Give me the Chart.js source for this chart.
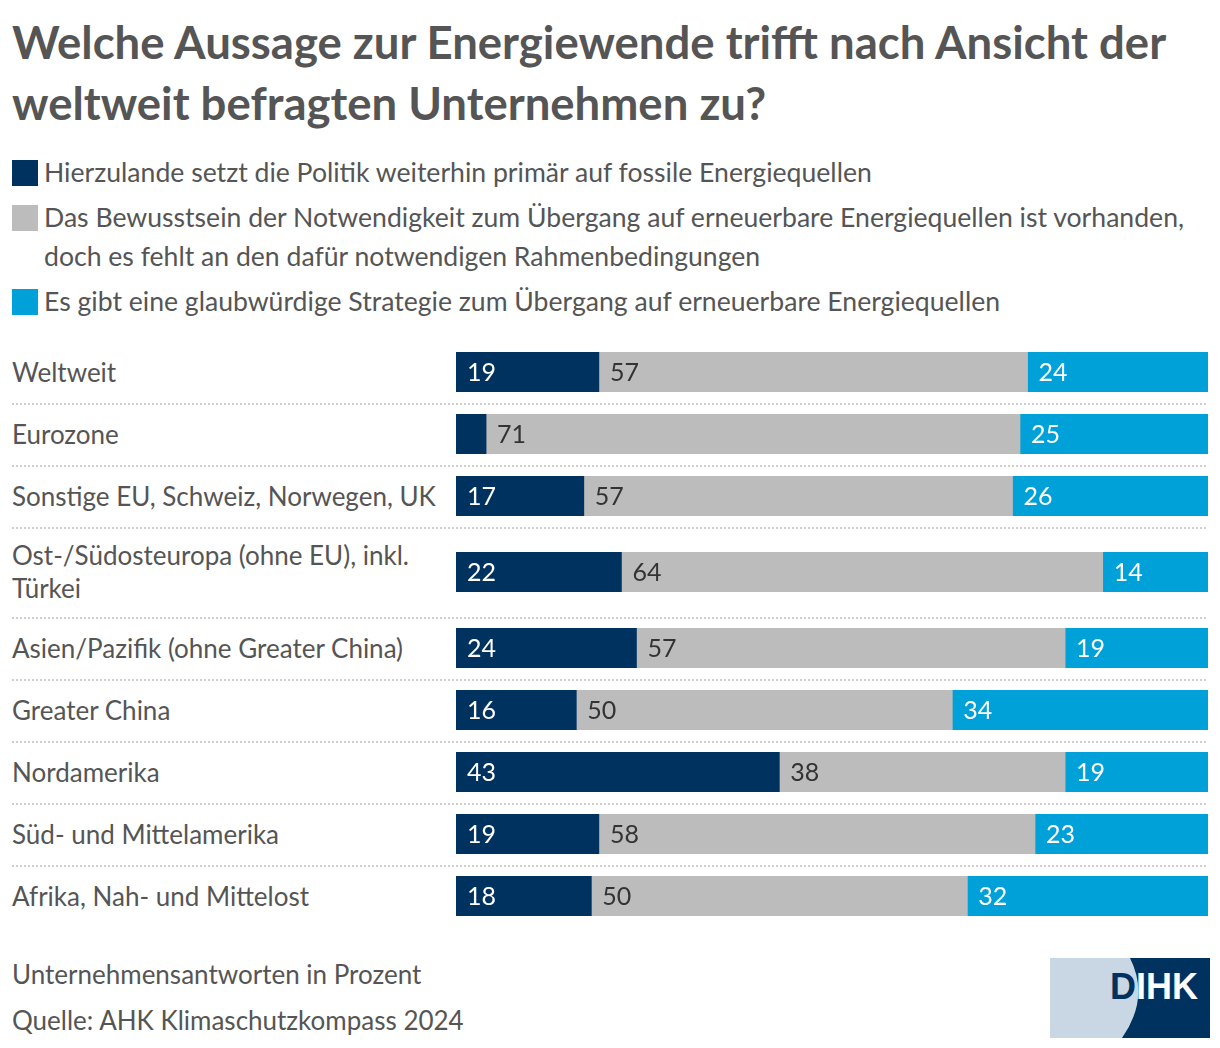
<!DOCTYPE html>
<html lang="de">
<head>
<meta charset="utf-8">
<script src="https://cdn.jsdelivr.net/npm/chart.js@4"></script>
<style>
  html, body { margin: 0; padding: 0; background: #fff; }
  body { width: 1220px; height: 1048px; font-family: Lato, "Noto Sans", sans-serif; color: #555; position: relative; overflow: hidden; }
  h1 { position: absolute; left: 12px; top: 11px; margin: 0; font-size: 45.5px; line-height: 61px; font-weight: 700; color: #555; width: 1200px; }
  .legend { position: absolute; left: 12px; top: 153px; width: 1200px; }
  .li { display: flex; align-items: flex-start; font-size: 26.6px; line-height: 39px; margin-bottom: 6px; }
  .li .tx { width: 1150px; }
  .sw { width: 26px; height: 26px; flex: none; margin-top: 7px; margin-right: 6px; }
  .rows { position: absolute; left: 12px; top: 341px; width: 1196px; }
  .row { display: flex; align-items: center; min-height: 62px; box-sizing: border-box; position: relative; }
  .row + .row { background-image: linear-gradient(to right, #cfcfcf 50%, rgba(255,255,255,0) 0%); background-size: 4px 2px; background-repeat: repeat-x; background-position: top left; }
  .lab { width: 444px; flex: none; font-size: 26px; line-height: 33px; padding: 12px 6px 12px 0; box-sizing: border-box; }
  .bar { width: 752px; height: 40px; flex: none; position: relative; }
  .foot { position: absolute; left: 12px; font-size: 26px; }
  .logo { position: absolute; left: 1050px; top: 958px; }
</style>
</head>
<body>
<h1 id="title"></h1>
<div class="legend" id="legend"></div>
<div class="rows" id="rows"></div>
<div class="foot" style="top: 958px;">Unternehmensantworten in Prozent</div>
<div class="foot" style="top: 1004px;">Quelle: AHK Klimaschutzkompass 2024</div>
<svg class="logo" width="160" height="80" viewBox="0 0 160 80">
  <rect x="0" y="0" width="160" height="80" fill="#c9d6e4"/>
  <path d="M80 0 Q100 40 72 80 L160 80 L160 0 Z" fill="#00325f"/>
  <text x="60" y="41" font-family="Liberation Sans, Arial, sans-serif" font-weight="700" font-size="36" fill="#00325f">D</text>
  <text x="86" y="41" font-family="Liberation Sans, Arial, sans-serif" font-weight="700" font-size="36" fill="#ffffff">IHK</text>
</svg>
<script>
const titleText = "Welche Aussage zur Energiewende trifft nach Ansicht der weltweit befragten Unternehmen zu?";
const seriesNames = [
  "Hierzulande setzt die Politik weiterhin primär auf fossile Energiequellen",
  "Das Bewusstsein der Notwendigkeit zum Übergang auf erneuerbare Energiequellen ist vorhanden, doch es fehlt an den dafür notwendigen Rahmenbedingungen",
  "Es gibt eine glaubwürdige Strategie zum Übergang auf erneuerbare Energiequellen"
];
const seriesColors = ["#00325f", "#bcbcbd", "#00a0d9"];
const labelColors = ["#ffffff", "#333333", "#ffffff"];
const categories = [
  "Weltweit",
  "Eurozone",
  "Sonstige EU, Schweiz, Norwegen, UK",
  "Ost-/Südosteuropa (ohne EU), inkl. Türkei",
  "Asien/Pazifik (ohne Greater China)",
  "Greater China",
  "Nordamerika",
  "Süd- und Mittelamerika",
  "Afrika, Nah- und Mittelost"
];
const fossil    = [19, 4, 17, 22, 24, 16, 43, 19, 18];
const awareness = [57, 71, 57, 64, 57, 50, 38, 58, 50];
const strategy  = [24, 25, 26, 14, 19, 34, 19, 23, 32];
const seriesValues = [fossil, awareness, strategy];

document.getElementById('title').textContent = titleText;

const legend = document.getElementById('legend');
seriesNames.forEach((n, i) => {
  const d = document.createElement('div'); d.className = 'li';
  const s = document.createElement('div'); s.className = 'sw'; s.style.background = seriesColors[i];
  const t = document.createElement('div'); t.className = 'tx'; t.textContent = n;
  d.appendChild(s); d.appendChild(t); legend.appendChild(d);
});

const valueLabels = {
  id: 'valueLabels',
  afterDatasetsDraw(chart) {
    const ctx = chart.ctx;
    ctx.save();
    ctx.font = '25px Lato, "Noto Sans", sans-serif';
    ctx.textBaseline = 'middle';
    ctx.textAlign = 'left';
    chart.data.datasets.forEach((ds, di) => {
      const meta = chart.getDatasetMeta(di);
      meta.data.forEach((el, j) => {
        const v = ds.data[j];
        const w = Math.abs(el.x - el.base);
        if (v < 5 || w < 36) return;
        ctx.fillStyle = labelColors[di];
        ctx.fillText(String(v), Math.min(el.x, el.base) + 11, el.y + 1);
      });
    });
    ctx.restore();
  }
};

const rows = document.getElementById('rows');
categories.forEach((c, i) => {
  const r = document.createElement('div'); r.className = 'row';
  const l = document.createElement('div'); l.className = 'lab'; l.textContent = c;
  const b = document.createElement('div'); b.className = 'bar';
  const cv = document.createElement('canvas');
  b.appendChild(cv); r.appendChild(l); r.appendChild(b); rows.appendChild(r);
  new Chart(cv, {
    type: 'bar',
    data: {
      labels: [c],
      datasets: seriesValues.map((vals, k) => ({
        label: seriesNames[k],
        data: [vals[i]],
        backgroundColor: seriesColors[k],
        borderWidth: 0,
        barPercentage: 1,
        categoryPercentage: 1
      }))
    },
    options: {
      indexAxis: 'y',
      responsive: true,
      maintainAspectRatio: false,
      animation: false,
      layout: { padding: 0 },
      scales: {
        x: { stacked: true, min: 0, max: 100, display: false },
        y: { stacked: true, display: false }
      },
      plugins: { legend: { display: false }, tooltip: { enabled: false } }
    },
    plugins: [valueLabels]
  });
});
</script>
</body>
</html>
